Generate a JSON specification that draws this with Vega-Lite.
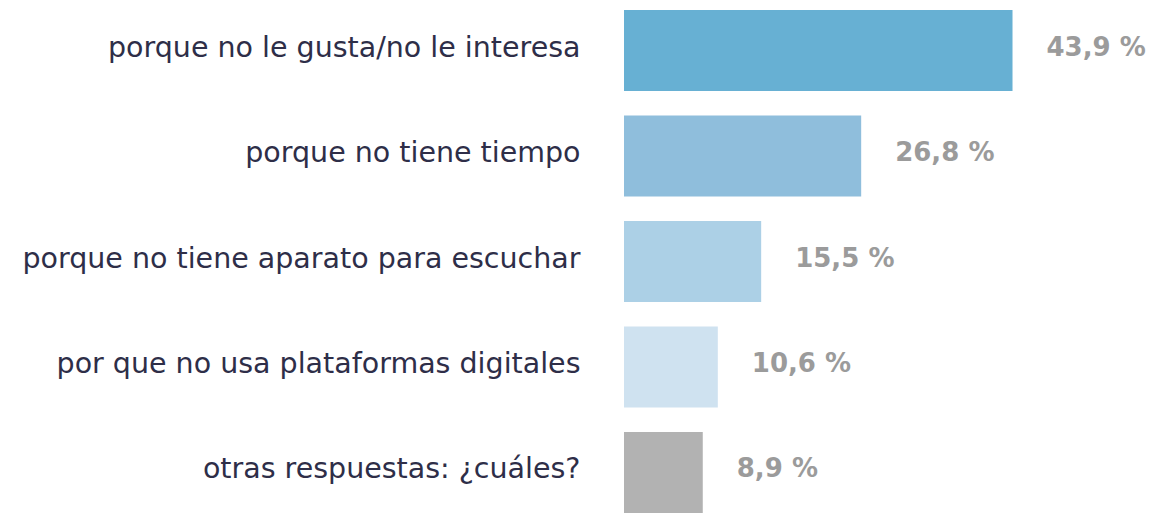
{
  "$schema": "https://vega.github.io/schema/vega-lite/v6.json",
  "autosize": {"type": "none"},
  "padding": {"left": 624, "top": 0, "right": 0, "bottom": 0},
  "width": 531,
  "height": 523,
  "background": "white",
  "config": {"view": {"stroke": null}},
  "data": {"values": [
    {"cat": "porque no le gusta/no le interesa", "value": 43.9, "label": "43,9 %"},
    {"cat": "porque no tiene tiempo", "value": 26.8, "label": "26,8 %"},
    {"cat": "porque no tiene aparato para escuchar", "value": 15.5, "label": "15,5 %"},
    {"cat": "por que no usa plataformas digitales", "value": 10.6, "label": "10,6 %"},
    {"cat": "otras respuestas: ¿cuáles?", "value": 8.9, "label": "8,9 %"}
  ]},
  "encoding": {
    "y": {"field": "cat", "type": "nominal", "sort": null,
      "scale": {"paddingInner": 0.232, "paddingOuter": 0.095},
      "axis": {"title": null, "domain": false, "ticks": false, "labelPadding": 44,
        "labelFont": "DejaVu Sans", "labelFontSize": 28.5, "labelColor": "#2e2e48", "labelLimit": 700, "labelOffset": -3}},
    "x": {"field": "value", "type": "quantitative", "scale": {"domain": [0, 60]}, "axis": null}
  },
  "layer": [
    {"mark": {"type": "bar"},
     "encoding": {"color": {"field": "cat", "type": "nominal", "sort": null, "legend": null,
       "scale": {"domain": ["porque no le gusta/no le interesa", "porque no tiene tiempo", "porque no tiene aparato para escuchar", "por que no usa plataformas digitales", "otras respuestas: ¿cuáles?"],
                 "range": ["#67b0d3", "#8fbedc", "#acd0e6", "#cfe2f0", "#b2b2b2"]}}}},
    {"mark": {"type": "text", "align": "left", "baseline": "middle", "dx": 34, "dy": -3, "font": "DejaVu Sans", "fontWeight": "bold", "fontSize": 26, "color": "#9b9b9b"},
     "encoding": {"text": {"field": "label"}}}
  ]
}
